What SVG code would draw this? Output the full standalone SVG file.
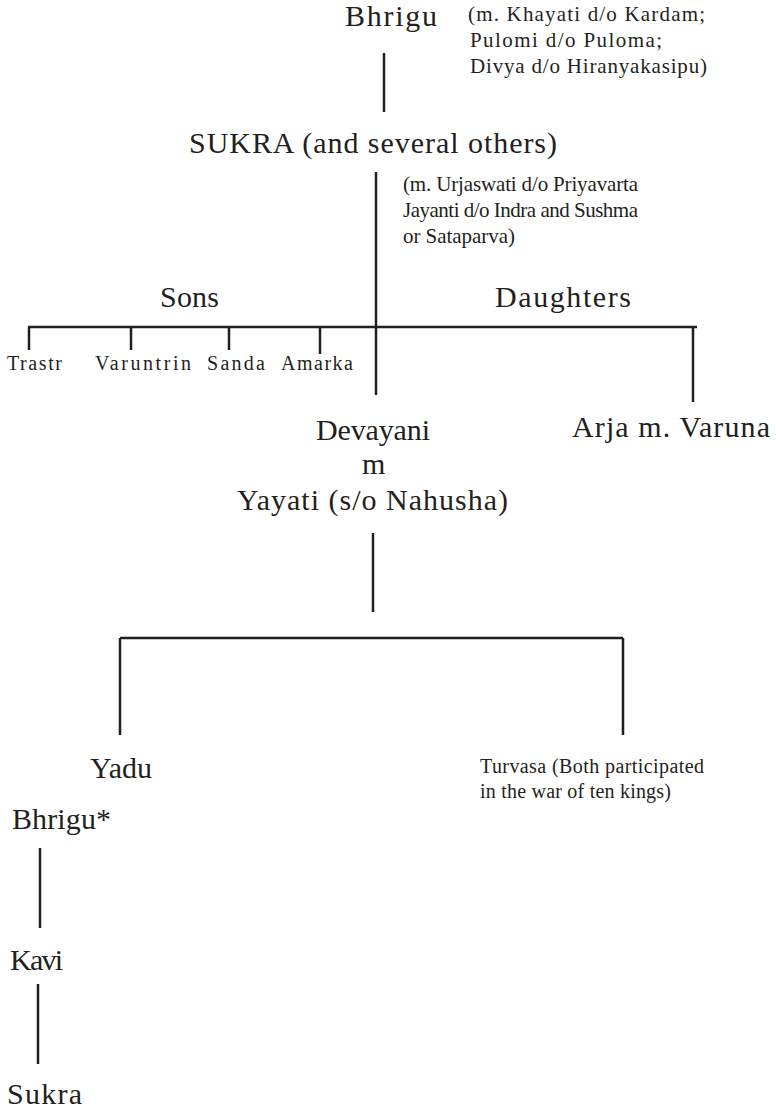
<svg xmlns="http://www.w3.org/2000/svg" width="776" height="1112" viewBox="0 0 776 1112">
<style>
text{font-family:"Liberation Serif","Times New Roman",serif;fill:#231f20}
.b{font-size:30px}
.n{font-size:21px}
.s{font-size:20px}
.t{font-size:20px}
#connectors line{stroke:#231f20;stroke-width:2.5;fill:none}
</style>
<rect width="776" height="1112" fill="#fff"/>
<g id="connectors">
<line x1="384" y1="53" x2="384" y2="112"/>
<line x1="376" y1="172" x2="376" y2="395"/>
<line x1="28" y1="327" x2="697" y2="327"/>
<line x1="29" y1="327" x2="29" y2="350"/>
<line x1="131" y1="327" x2="131" y2="350"/>
<line x1="229" y1="327" x2="229" y2="350"/>
<line x1="320" y1="327" x2="320" y2="354"/>
<line x1="693" y1="327" x2="693" y2="402"/>
<line x1="373" y1="533" x2="373" y2="612"/>
<line x1="120" y1="638" x2="623" y2="638"/>
<line x1="120" y1="638" x2="120" y2="735"/>
<line x1="623" y1="638" x2="623" y2="735"/>
<line x1="40" y1="848" x2="40" y2="928"/>
<line x1="38" y1="984" x2="38" y2="1064"/>
</g>
<g id="bhrigu"><text class="b" x="345" y="26" textLength="92" lengthAdjust="spacing">Bhrigu</text></g>
<g id="bhrigu-wives">
<text class="n" x="468" y="21" textLength="237" lengthAdjust="spacing">(m. Khayati d/o Kardam;</text>
<text class="n" x="470" y="47" textLength="192" lengthAdjust="spacing">Pulomi d/o Puloma;</text>
<text class="n" x="470" y="73" textLength="237" lengthAdjust="spacing">Divya d/o Hiranyakasipu)</text>
</g>
<g id="sukra"><text class="b" x="189" y="153" textLength="368" lengthAdjust="spacing">SUKRA (and several others)</text></g>
<g id="sukra-wives">
<text class="n" x="403" y="191" textLength="235" lengthAdjust="spacing">(m. Urjaswati d/o Priyavarta</text>
<text class="n" x="403" y="217" textLength="235" lengthAdjust="spacing">Jayanti d/o Indra and Sushma</text>
<text class="n" x="403" y="243" textLength="112" lengthAdjust="spacing">or Sataparva)</text>
</g>
<g id="sons"><text class="b" x="160" y="307" textLength="59" lengthAdjust="spacing">Sons</text></g>
<g id="daughters"><text class="b" x="495" y="307" textLength="136" lengthAdjust="spacing">Daughters</text></g>
<g id="trastr"><text class="s" x="7" y="370" textLength="55" lengthAdjust="spacing">Trastr</text></g>
<g id="varuntrin"><text class="s" x="95" y="370" textLength="96" lengthAdjust="spacing">Varuntrin</text></g>
<g id="sanda"><text class="s" x="207" y="370" textLength="58" lengthAdjust="spacing">Sanda</text></g>
<g id="amarka"><text class="s" x="281" y="370" textLength="72" lengthAdjust="spacing">Amarka</text></g>
<g id="devayani">
<text class="b" x="316" y="440" textLength="114" lengthAdjust="spacing">Devayani</text>
<text class="b" x="362" y="474" textLength="21" lengthAdjust="spacing">m</text>
<text class="b" x="237" y="510" textLength="271" lengthAdjust="spacing">Yayati (s/o Nahusha)</text>
</g>
<g id="arja"><text class="b" x="572" y="437" textLength="198" lengthAdjust="spacing">Arja m. Varuna</text></g>
<g id="yadu"><text class="b" x="90" y="778" textLength="62" lengthAdjust="spacing">Yadu</text></g>
<g id="turvasa">
<text class="t" x="480" y="773" textLength="224" lengthAdjust="spacing">Turvasa (Both participated</text>
<text class="t" x="480" y="798" textLength="191" lengthAdjust="spacing">in the war of ten kings)</text>
</g>
<g id="bhrigu2"><text class="b" x="12" y="829" textLength="99" lengthAdjust="spacing">Bhrigu*</text></g>
<g id="kavi"><text class="b" x="10" y="970" textLength="53" lengthAdjust="spacing">Kavi</text></g>
<g id="sukra2"><text class="b" x="7" y="1104" textLength="75" lengthAdjust="spacing">Sukra</text></g>
</svg>
